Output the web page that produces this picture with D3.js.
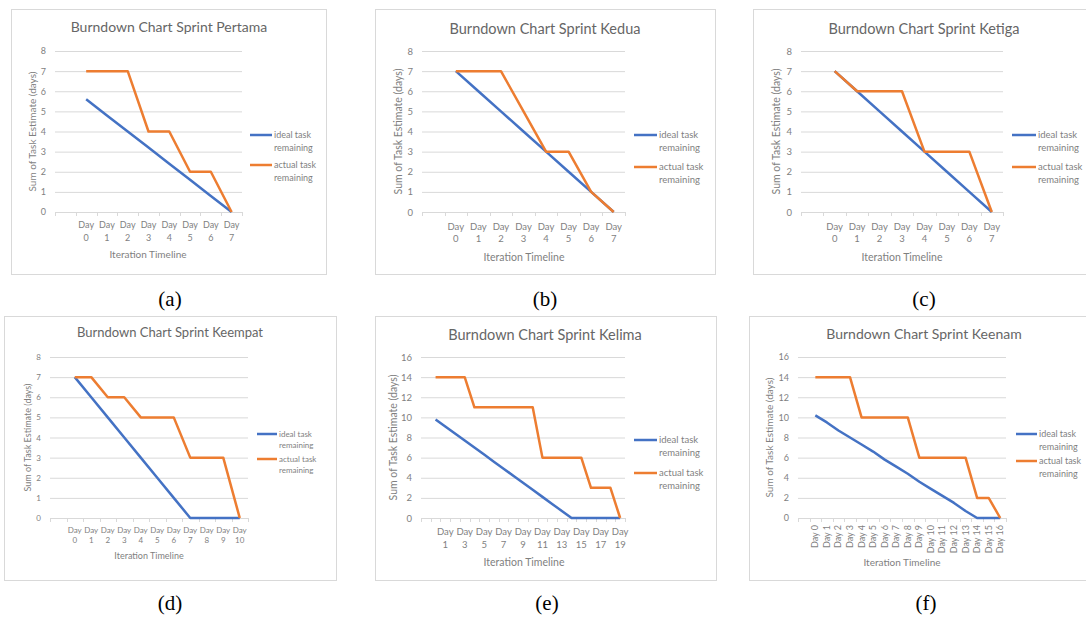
<!DOCTYPE html>
<html>
<head>
<meta charset="utf-8">
<script src="https://cdn.jsdelivr.net/npm/d3@7"></script>
<style>
  body { margin: 0; background: white; }
  svg { display: block; }
</style>
</head>
<body>
<div id="chart"></div>
<script>
const blue = "#4472C4";
const orange = "#ED7D31";
const gridColor = "#d9d9d9";
const textColor = "#7f7f7f";
const titleColor = "#666666";
const font = "Lato, 'Open Sans', sans-serif";

// categories (first band is an empty category, as in the Excel source)
const dayLabels = (n) => [""].concat(d3.range(n).map((i) => "Day " + i));
const catsA = dayLabels(8);
const catsD = dayLabels(11);
const catsE = dayLabels(20);
const catsF = dayLabels(17);

// series values
const idealA = [5.6, 4.8, 4.0, 3.2, 2.4, 1.6, 0.8, 0];
const actualA = [7, 7, 7, 4, 4, 2, 2, 0];
const idealB = [7, 6, 5, 4, 3, 2, 1, 0];
const actualB = [7, 7, 7, 5, 3, 3, 1, 0];
const idealC = [7, 6, 5, 4, 3, 2, 1, 0];
const actualC = [7, 6, 6, 6, 3, 3, 3, 0];
const idealD = [7, 6, 5, 4, 3, 2, 1, 0, 0, 0, 0];
const actualD = [7, 7, 6, 6, 5, 5, 5, 3, 3, 3, 0];
const idealE = [9.8, 9.1, 8.4, 7.7, 7.0, 6.3, 5.6, 4.9, 4.2, 3.5, 2.8, 2.1, 1.4, 0.7, 0, 0, 0, 0, 0, 0];
const actualE = [14, 14, 14, 14, 11, 11, 11, 11, 11, 11, 11, 6, 6, 6, 6, 6, 3, 3, 3, 0];
const idealF = [10.2, 9.5, 8.7, 8.0, 7.3, 6.6, 5.8, 5.1, 4.4, 3.6, 2.9, 2.2, 1.5, 0.7, 0, 0, 0];
const actualF = [14, 14, 14, 14, 10, 10, 10, 10, 10, 6, 6, 6, 6, 6, 2, 2, 0];

const yTicks8 = [0, 1, 2, 3, 4, 5, 6, 7, 8];
const yTicks16 = [0, 2, 4, 6, 8, 10, 12, 14, 16];

const legendNames = [["ideal task", "remaining"], ["actual task", "remaining"]];

const panels = [
  { title: "Burndown Chart Sprint Pertama", caption: "(a)", cats: catsA, ideal: idealA, actual: actualA,
    yMax: 8, yTicks: yTicks8, box: [11, 9, 326, 274], plot: [55, 242, 51, 212],
    titleAt: [169, 27], titleSize: 14, yTitleX: 32, xTitleAt: [148, 254], labelY: [225, 238],
    fs: 9, legend: [250, 272, 135, 165], captionAt: [170, 299] },
  { title: "Burndown Chart Sprint Kedua", caption: "(b)", cats: catsA, ideal: idealB, actual: actualB,
    yMax: 8, yTicks: yTicks8, box: [375, 9, 715, 274], plot: [422, 625, 51, 212],
    titleAt: [545, 29], titleSize: 14.5, yTitleX: 398, xTitleAt: [524, 257], labelY: [227, 239],
    fs: 9.5, legend: [634, 657, 135, 167], captionAt: [545, 299] },
  { title: "Burndown Chart Sprint Ketiga", caption: "(c)", cats: catsA, ideal: idealC, actual: actualC,
    yMax: 8, yTicks: yTicks8, box: [753, 9, 1095, 274], plot: [801, 1003, 51, 212],
    titleAt: [924, 29], titleSize: 14.5, yTitleX: 776, xTitleAt: [902, 257], labelY: [227, 239],
    fs: 9.5, legend: [1012, 1036, 135, 167], captionAt: [924, 299] },
  { title: "Burndown Chart Sprint Keempat", caption: "(d)", cats: catsD, ideal: idealD, actual: actualD,
    yMax: 8, yTicks: yTicks8, box: [4, 316, 336, 580], plot: [50, 248, 357, 518],
    titleAt: [170, 332], titleSize: 13, yTitleX: 28, xTitleAt: [149, 556], labelY: [530, 540],
    fs: 8, legend: [257, 277, 434, 459], captionAt: [170, 603] },
  { title: "Burndown Chart Sprint Kelima", caption: "(e)", cats: catsE, ideal: idealE, actual: actualE,
    yMax: 16, yTicks: yTicks16, box: [375, 316, 716, 580], plot: [421, 625, 357, 518],
    titleAt: [545, 335], titleSize: 14.5, yTitleX: 393, xTitleAt: [524, 562], labelY: [532, 545],
    fs: 9.5, legend: [634, 657, 440, 473], captionAt: [547, 603], every: 2 },
  { title: "Burndown Chart Sprint Keenam", caption: "(f)", cats: catsF, ideal: idealF, actual: actualF,
    yMax: 16, yTicks: yTicks16, box: [749, 316, 1095, 580], plot: [798, 1006, 357, 518],
    titleAt: [924, 334], titleSize: 14, yTitleX: 769, xTitleAt: [902, 562], labelY: [525, 0],
    fs: 9, legend: [1016, 1037, 434, 461], captionAt: [926, 603], rotate: true }
];

const svg = d3.select("#chart").append("svg")
  .attr("width", 1086)
  .attr("height", 619)
  .attr("font-family", font);

panels.forEach((p) => {
  const g = svg.append("g");
  const [bx0, by0, bx1, by1] = p.box;
  const [left, right, top, bottom] = p.plot;

  g.append("rect")
    .attr("x", bx0 + 0.5).attr("y", by0 + 0.5)
    .attr("width", bx1 - bx0).attr("height", by1 - by0)
    .attr("fill", "white").attr("stroke", gridColor);

  const x = d3.scaleBand().domain(p.cats).range([left, right]);
  const y = d3.scaleLinear().domain([0, p.yMax]).range([bottom, top]);
  const cx = (c) => x(c) + x.bandwidth() / 2;

  // gridlines + y labels
  const yAxis = g.append("g")
    .attr("transform", `translate(${left},0)`)
    .call(d3.axisLeft(y).tickValues(p.yTicks).tickSize(-(right - left)).tickPadding(9));
  yAxis.select(".domain").remove();
  yAxis.selectAll(".tick line").attr("stroke", gridColor);
  yAxis.selectAll(".tick text")
    .attr("fill", textColor).attr("font-size", p.fs).attr("font-family", font);

  // x axis line and category ticks (between categories)
  g.append("line")
    .attr("x1", left).attr("x2", right)
    .attr("y1", y(0) + 0.5).attr("y2", y(0) + 0.5)
    .attr("stroke", gridColor);
  const bounds = p.cats.map((c) => x(c)).concat([x.range()[1]]);
  g.selectAll(".xt").data(bounds).join("line")
    .attr("x1", (d) => Math.round(d) + 0.5).attr("x2", (d) => Math.round(d) + 0.5)
    .attr("y1", y(0)).attr("y2", y(0) + 4)
    .attr("stroke", gridColor);

  // x labels
  const every = p.every || 1;
  const shown = p.cats.filter((c, i) => c !== "" && i % every === 0);
  if (p.rotate) {
    g.selectAll(".xl").data(shown).join("text")
      .attr("transform", (c) => `translate(${cx(c) + 3},${p.labelY[0]}) rotate(-90)`)
      .attr("text-anchor", "end")
      .attr("fill", textColor).attr("font-size", p.fs)
      .text((c) => c);
  } else {
    const lab = g.selectAll(".xl").data(shown).join("text")
      .attr("text-anchor", "middle")
      .attr("fill", textColor).attr("font-size", p.fs);
    lab.append("tspan").attr("x", cx).attr("y", p.labelY[0]).attr("dy", "0.35em")
      .text((c) => c.split(" ")[0]);
    lab.append("tspan").attr("x", cx).attr("y", p.labelY[1]).attr("dy", "0.35em")
      .text((c) => c.split(" ")[1]);
  }

  // titles
  g.append("text")
    .attr("x", p.titleAt[0]).attr("y", p.titleAt[1]).attr("dy", "0.35em")
    .attr("text-anchor", "middle").attr("fill", titleColor)
    .attr("font-size", p.titleSize).text(p.title);
  g.append("text")
    .attr("transform", `translate(${p.yTitleX},${(top + bottom) / 2}) rotate(-90)`)
    .attr("dy", "0.35em").attr("text-anchor", "middle")
    .attr("fill", textColor).attr("font-size", p.fs + 1)
    .text("Sum of Task Estimate (days)");
  g.append("text")
    .attr("x", p.xTitleAt[0]).attr("y", p.xTitleAt[1]).attr("dy", "0.35em")
    .attr("text-anchor", "middle").attr("fill", textColor)
    .attr("font-size", p.fs + 1).text("Iteration Timeline");

  // lines
  const days = p.cats.slice(1);
  const line = d3.line().x((d, i) => cx(days[i])).y((d) => y(d));
  [[p.ideal, blue], [p.actual, orange]].forEach(([vals, col]) => {
    g.append("path")
      .attr("d", line(vals))
      .attr("fill", "none").attr("stroke", col)
      .attr("stroke-width", 2.5).attr("stroke-linejoin", "round");
  });

  // legend
  const [lx0, lx1, ly1, ly2] = p.legend;
  [[ly1, blue], [ly2, orange]].forEach(([ly, col], k) => {
    g.append("line")
      .attr("x1", lx0).attr("x2", lx1).attr("y1", ly).attr("y2", ly)
      .attr("stroke", col).attr("stroke-width", 2.5);
    legendNames[k].forEach((t, j) => {
      g.append("text")
        .attr("x", lx1 + 2).attr("y", ly + j * (p.fs + 3.5)).attr("dy", "0.35em")
        .attr("fill", textColor).attr("font-size", p.fs).text(t);
    });
  });

  // caption
  svg.append("text")
    .attr("x", p.captionAt[0]).attr("y", p.captionAt[1]).attr("dy", "0.35em")
    .attr("text-anchor", "middle")
    .attr("font-family", "'Liberation Serif', 'Times New Roman', serif")
    .attr("font-size", 21).attr("fill", "black")
    .text(p.caption);
});
</script>
</body>
</html>
